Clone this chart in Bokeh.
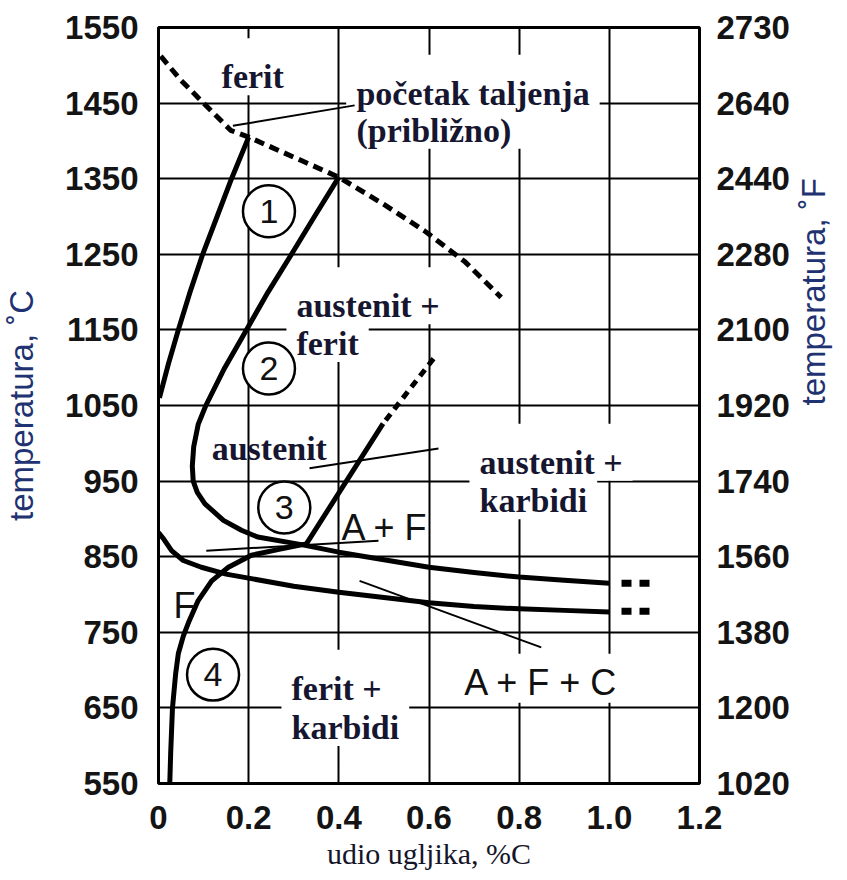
import math
from bokeh.plotting import figure
from bokeh.models import Range1d, FixedTicker, LinearAxis
from bokeh.core.properties import value
from bokeh.embed import file_html
from bokeh.resources import INLINE

# ---------------- data ----------------
x_ticks = [0, 0.2, 0.4, 0.6, 0.8, 1.0, 1.2]
x_tick_labels = ["0", "0.2", "0.4", "0.6", "0.8", "1.0", "1.2"]
c_ticks = [550, 650, 750, 850, 950, 1050, 1150, 1250, 1350, 1450, 1550]
f_tick_labels = ["1020", "1200", "1380", "1560", "1740", "1920", "2100", "2280", "2440", "2640", "2730"]

# curve 1 (ferit / ferit+austenit)
c1_x = [0.002, 0.022, 0.044, 0.07, 0.098, 0.13, 0.162, 0.2]
c1_t = [1060, 1105, 1150, 1200, 1250, 1300, 1350, 1405]
# curve 2 (austenit boundary)
c2_x = [0.4, 0.346, 0.295, 0.243, 0.195, 0.147, 0.105, 0.088, 0.078, 0.075, 0.077, 0.086, 0.103, 0.144, 0.184, 0.22, 0.317, 0.4, 0.5, 0.6, 0.7, 0.8, 0.9, 1.0]
c2_t = [1352, 1300, 1250, 1200, 1150, 1100, 1050, 1025, 995, 970, 950, 935, 920, 898, 885, 876, 866, 856, 846, 836, 829, 823, 819, 815]
# curve 3 dashed upper part
c3d_x = [0.61, 0.498]
c3d_t = [1112, 1026]
# curve 3 solid + curve 4
c3_x = [0.498, 0.328, 0.27, 0.206, 0.155, 0.118, 0.088, 0.068, 0.055, 0.044, 0.038, 0.031, 0.027, 0.025]
c3_t = [1026, 867, 860, 852, 836, 818, 792, 765, 745, 722, 695, 650, 590, 550]
# curve 5 (lower line)
c5_x = [0.0, 0.012, 0.029, 0.055, 0.095, 0.15, 0.206, 0.3, 0.4, 0.5, 0.6, 0.7, 0.8, 0.9, 1.0]
c5_t = [882, 873, 858, 845, 836, 827, 821, 811, 803, 796, 789, 784, 781, 779, 777]
# melting start (dashed)
melt_x = [0.005, 0.05, 0.095, 0.16, 0.2, 0.317, 0.4, 0.5, 0.59, 0.68, 0.76]
melt_t = [1512, 1480, 1453, 1414, 1405, 1374, 1352, 1316, 1281, 1240, 1193]
# dashed extensions beyond 1.0 %C
ext_x = [1.027, 1.097]
ext_upper_t = [815, 815]
ext_lower_t = [778, 778]

# leader lines
lead_xs = [[0.165, 0.435], [0.335, 0.621], [0.106, 0.488], [0.446, 0.849]]
lead_ts = [[1420, 1447], [967, 993], [858, 871], [818, 730]]

# region labels (serif, bold)
bg_text = ["ferit", "početak taljenja", "(približno)", "austenit +", "ferit",
           "austenit +", "karbidi", "ferit +", "karbidi"]
bg_x = [0.14, 0.439, 0.439, 0.306, 0.306, 0.712, 0.712, 0.295, 0.295]
bg_t = [1485, 1463, 1414, 1182, 1132, 975, 924, 676, 624]
plain_text = ["austenit"]
plain_x = [0.118]
plain_t = [993]

# sans labels
sans_text = ["F", "A + F", "A + F + C"]
sans_x = [0.033, 0.406, 0.678]
sans_t = [785, 889, 684]

# circled region numbers
circ_text = ["1", "2", "3", "4"]
circ_x = [0.245, 0.245, 0.279, 0.121]
circ_t = [1307, 1099, 915, 694]

# ---------------- figure ----------------
p = figure(frame_width=541, frame_height=756, x_range=Range1d(0, 1.2), y_range=Range1d(550, 1550),
           output_backend="svg", toolbar_location=None,
           min_border_left=157, min_border_right=149, min_border_top=27, min_border_bottom=97)
p.background_fill_color = "white"
p.border_fill_color = "white"
p.outline_line_color = "black"
p.outline_line_width = 3

p.xgrid.ticker = FixedTicker(ticks=x_ticks)
p.ygrid.ticker = FixedTicker(ticks=c_ticks)
p.xgrid.grid_line_color = "black"
p.ygrid.grid_line_color = "black"
p.xgrid.grid_line_width = 2
p.ygrid.grid_line_width = 2

right = LinearAxis(ticker=FixedTicker(ticks=c_ticks),
                   major_label_overrides={t: f for t, f in zip(c_ticks, f_tick_labels)})
p.add_layout(right, "right")

xa = p.xaxis[0]
ya = p.yaxis[0]
xa.ticker = FixedTicker(ticks=x_ticks)
xa.major_label_overrides = {t: l for t, l in zip(x_ticks, x_tick_labels)}
ya.ticker = FixedTicker(ticks=c_ticks)

for ax in (xa, ya, right):
    ax.axis_line_color = None
    ax.major_tick_line_color = None
    ax.minor_tick_line_color = None
    ax.major_tick_out = 0
    ax.major_tick_in = 0
    ax.minor_tick_out = 0
    ax.minor_tick_in = 0
    ax.major_label_text_font = "Liberation Sans"
    ax.major_label_text_font_size = "33px"
    ax.major_label_text_font_style = "bold"
    ax.major_label_text_color = "#141414"

xa.major_label_standoff = 22
xa.axis_label = "udio ugljika, %C"
xa.axis_label_text_font = "Liberation Serif"
xa.axis_label_text_font_size = "30px"
xa.axis_label_text_font_style = "normal"
xa.axis_label_text_color = "#15152a"
xa.axis_label_standoff = 5

ya.major_label_standoff = 20
ya.axis_label = "temperatura, ˚C"
ya.axis_label_text_font = "Liberation Sans"
ya.axis_label_text_font_size = "33px"
ya.axis_label_text_font_style = "normal"
ya.axis_label_text_color = "#1f3372"
ya.axis_label_standoff = 22

right.major_label_standoff = 17
right.axis_label = "temperatura, ˚F"
right.axis_label_text_font = "Liberation Sans"
right.axis_label_text_font_size = "33px"
right.axis_label_text_font_style = "normal"
right.axis_label_text_color = "#1f3372"
right.axis_label_standoff = 21
right.axis_label_orientation = math.pi / 2

# white boxes behind labels (gaps in the grid)
PAD = 10
p.text(x=bg_x, y=bg_t, text=bg_text, text_font=value("Liberation Serif"),
       text_font_size="34px", text_font_style="bold", text_alpha=0.0,
       text_align="left", text_baseline="alphabetic",
       background_fill_color="white", padding=PAD, x_offset=-PAD, y_offset=-PAD)
p.text(x=[0.678], y=[684], text=["A + F + C"], text_font=value("Liberation Sans"),
       text_font_size="36px", text_alpha=0.0,
       text_align="left", text_baseline="alphabetic",
       background_fill_color="white", padding=4, x_offset=-4, y_offset=-4)

# curves
p.line(c1_x, c1_t, line_width=5, line_color="black", line_join="round")
p.line(c2_x, c2_t, line_width=5, line_color="black", line_join="round")
p.line(c3_x, c3_t, line_width=5, line_color="black", line_join="round")
p.line(c3d_x, c3d_t, line_width=5, line_color="black", line_dash="8 6")
p.line(c5_x, c5_t, line_width=5, line_color="black", line_join="round")
p.line(melt_x, melt_t, line_width=5, line_color="black", line_dash="10 6")
p.line(ext_x, ext_upper_t, line_width=7, line_color="black", line_dash="10 8")
p.line(ext_x, ext_lower_t, line_width=7, line_color="black", line_dash="10 8")

# leaders
p.multi_line(lead_xs, lead_ts, line_width=2, line_color="black")

# circles
p.scatter(circ_x, circ_t, marker="circle", size=52, fill_color="white",
          line_color="black", line_width=2.5)
p.text(x=circ_x, y=circ_t, text=circ_text, text_font=value("Liberation Sans"),
       text_font_size="34px", text_color="#111111", text_align="center",
       text_baseline="middle")

# visible texts
p.text(x=bg_x, y=bg_t, text=bg_text, text_font=value("Liberation Serif"),
       text_font_size="34px", text_font_style="bold", text_color="#161630",
       text_align="left", text_baseline="alphabetic")
p.text(x=plain_x, y=plain_t, text=plain_text, text_font=value("Liberation Serif"),
       text_font_size="34px", text_font_style="bold", text_color="#161630",
       text_align="left", text_baseline="alphabetic")
p.text(x=sans_x, y=sans_t, text=sans_text, text_font=value("Liberation Sans"),
       text_font_size="36px", text_color="#111111",
       text_align="left", text_baseline="alphabetic")

open("out.html", "w").write(file_html(p, INLINE))
